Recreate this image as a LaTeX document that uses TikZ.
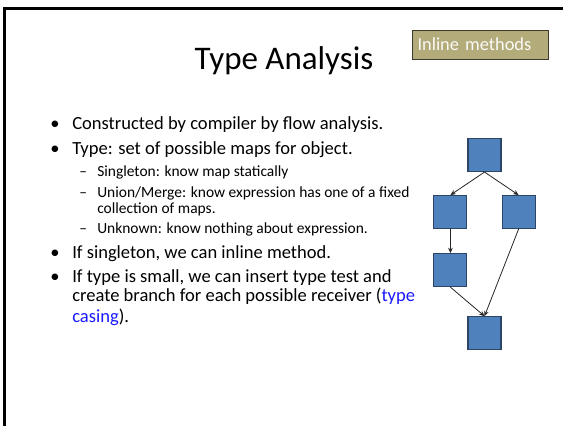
\documentclass[tikz,border=0pt]{standalone}
\usepackage{fontspec}
\setmainfont{Carlito}
\usepackage{tikz}
\usetikzlibrary{arrows.meta,positioning}
\definecolor{blockblue}{RGB}{79,129,189}
\definecolor{blockedge}{RGB}{44,68,102}
\definecolor{tagtan}{RGB}{180,171,122}
\definecolor{tagedge}{RGB}{60,58,45}
\definecolor{linkblue}{RGB}{25,25,255}

\begin{document}
\begin{tikzpicture}[x=0.75pt, y=-0.75pt,
    blk/.style={draw=blockedge, fill=blockblue, line width=0.8pt, minimum size=24.75pt, inner sep=0pt},
    arr/.style={-{Stealth[length=4pt,width=3.5pt]}, line width=0.6pt, black!85},
    bul/.style={anchor=base west, inner sep=0pt, font=\fontsize{13.9}{16}\selectfont},
    sub/.style={anchor=base west, inner sep=0pt, font=\fontsize{11.6}{13}\selectfont}
]
\useasboundingbox (0,0) rectangle (563,426);
% slide frame
\draw[line width=2.25pt] (4.5,426) -- (4.5,8) -- (563,8);

\node[font=\fontsize{24.75}{28}\selectfont, anchor=base] (title) at (284,69) {Type Analysis};
\node[draw=tagedge, fill=tagtan, text=white!94!tagtan, line width=0.75pt, anchor=west,
      inner xsep=3.75pt, inner ysep=0pt, text width=94.5pt, minimum height=21.75pt,
      align=left, font=\fontsize{13.8}{16}\selectfont] (tag) at (412,44.5) {Inline methods};

% bullets
\node[bul] (dot1) at (50,129) {•};
\node[bul] (item1) at (72,129) {Constructed by compiler by flow analysis.};
\node[bul] (dot2) at (50,154) {•};
\node[bul] (item2) at (72,154) {Type: set of possible maps for object.};
\node[sub] (dash1) at (79,176) {–};
\node[sub] (single) at (97,176) {Singleton: know map statically};
\node[sub] (dash2) at (79,197) {–};
\node[sub] (union) at (97,197) {Union/Merge: know expression has one of a fixed};
\node[sub] (union2) at (97,213) {collection of maps.};
\node[sub] (dash3) at (79,233) {–};
\node[sub] (unknown) at (97,233) {Unknown: know nothing about expression.};
\node[bul] (dot3) at (50,258) {•};
\node[bul] (item3) at (72,258) {If singleton, we can inline method.};
\node[bul] (dot4) at (50,282) {•};
\node[bul] (item4) at (72,282) {If type is small, we can insert type test and};
\node[bul] (item4b) at (72,301) {create branch for each possible receiver (\textcolor{linkblue}{type}};
\node[bul] (item4c) at (72,322) {\textcolor{linkblue}{casing}).};

% flow graph
\node[blk] (top) at (484.5,155) {};
\node[blk, below left=17.25pt and 0pt of top] (midl) {};
\node[blk, below right=17.25pt and 0pt of top] (midr) {};
\node[blk, below=18pt of midl] (lowl) {};
\node[blk, below right=21.75pt and 0pt of lowl] (bot) {};

\draw[arr] (top.south) -- (midl.north);
\draw[arr] (top.south) -- (midr.north);
\draw[arr] (midl) -- (lowl);
\draw[arr] (lowl.south) -- (bot.north);
\draw[arr] (midr.south) -- (bot.north);
\end{tikzpicture}
\end{document}
